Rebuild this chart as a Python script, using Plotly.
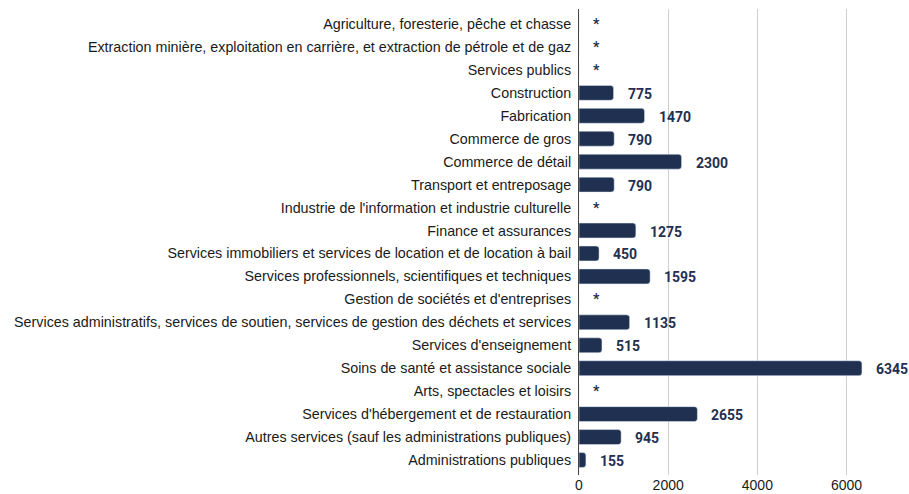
import plotly.graph_objects as go

categories = [
    "Agriculture, foresterie, pêche et chasse",
    "Extraction minière, exploitation en carrière, et extraction de pétrole et de gaz",
    "Services publics",
    "Construction",
    "Fabrication",
    "Commerce de gros",
    "Commerce de détail",
    "Transport et entreposage",
    "Industrie de l'information et industrie culturelle",
    "Finance et assurances",
    "Services immobiliers et services de location et de location à bail",
    "Services professionnels, scientifiques et techniques",
    "Gestion de sociétés et d'entreprises",
    "Services administratifs, services de soutien, services de gestion des déchets et services",
    "Services d'enseignement",
    "Soins de santé et assistance sociale",
    "Arts, spectacles et loisirs",
    "Services d'hébergement et de restauration",
    "Autres services (sauf les administrations publiques)",
    "Administrations publiques",
]
values = [None, None, None, 775, 1470, 790, 2300, 790, None, 1275, 450, 1595,
          None, 1135, 515, 6345, None, 2655, 945, 155]
labels = ["*" if v is None else str(v) for v in values]
x_ticks = [0, 2000, 4000, 6000]

bar_color = "#1f3050"

fig = go.Figure()
fig.add_trace(go.Bar(
    x=[0 if v is None else v for v in values],
    y=categories,
    orientation="h",
    marker=dict(color=bar_color, cornerradius=3),
    hoverinfo="x+y",
))

for c, v, t in zip(categories, values, labels):
    fig.add_annotation(
        x=0 if v is None else v, y=c, text=f"<b>{t}</b>",
        xanchor="left", yanchor="middle", showarrow=False, xshift=12,
        yshift=-1 if t != "*" else 0,
        font=dict(family="Roboto", size=14, color=bar_color),
    )

fig.update_layout(
    width=909, height=494,
    margin=dict(l=579, r=0, t=9, b=19),
    plot_bgcolor="white", paper_bgcolor="white",
    bargap=0.35,
    showlegend=False,
    xaxis=dict(
        range=[0, 7400], tickvals=x_ticks, showgrid=True, gridcolor="#cfcfcf",
        gridwidth=1, zeroline=False, showline=False,
        tickfont=dict(family="Liberation Sans, Arial", size=14, color="#1a1a1a"),
        ticks="", fixedrange=True,
    ),
    yaxis=dict(
        range=[19.654, -0.654], categoryorder="array", categoryarray=categories,
        showline=True, linecolor="#444444", linewidth=1,
        tickfont=dict(family="Liberation Sans, Arial", size=14.3, color="#1a1a1a"),
        ticks="outside", ticklen=4, tickcolor="rgba(0,0,0,0)", showgrid=False,
    ),
)

fig.write_html(
    "out.html",
    config={"displayModeBar": False},
    post_script="document.body.style.margin='0';document.body.style.overflow='hidden';",
)
